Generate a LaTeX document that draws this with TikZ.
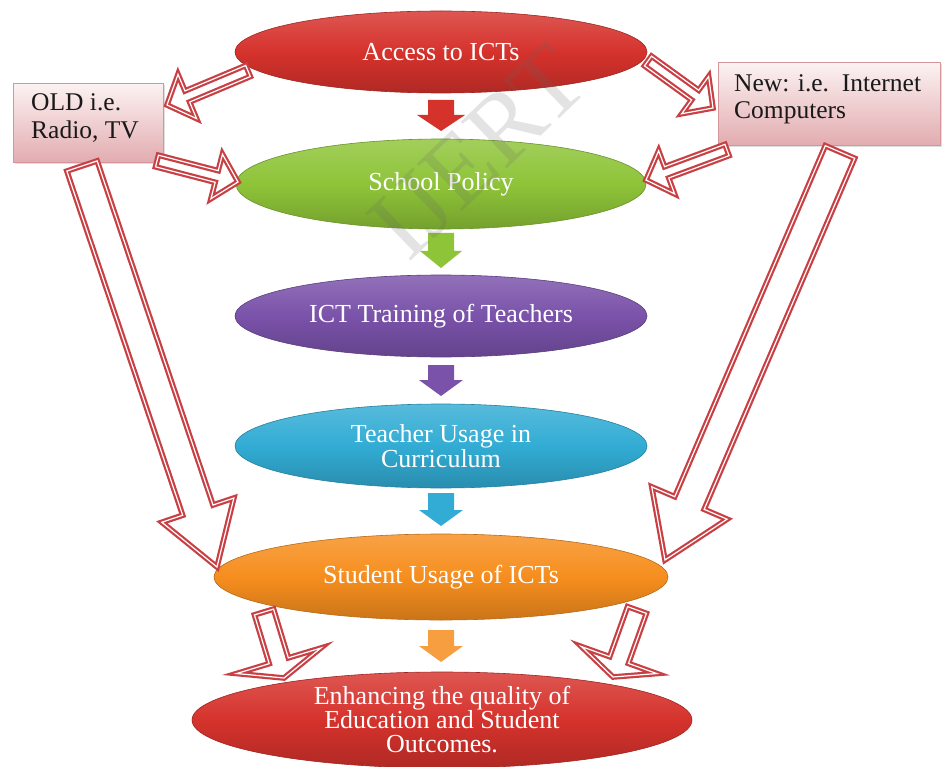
\documentclass[tikz,border=0pt]{standalone}
\usepackage{fontspec}
\setmainfont{Liberation Serif}
\usetikzlibrary{shapes.geometric,calc,shadows}

\definecolor{ared}{RGB}{200,64,68}
\definecolor{cred}{RGB}{214,50,44}
\definecolor{cgreen}{RGB}{142,196,56}
\definecolor{cpurple}{RGB}{122,82,170}
\definecolor{ccyan}{RGB}{50,172,212}
\definecolor{corange}{RGB}{246,142,30}
\definecolor{boxtop}{RGB}{252,242,242}
\definecolor{boxbot}{RGB}{226,172,176}
\definecolor{boxline}{RGB}{212,150,154}
\definecolor{txtdark}{RGB}{25,25,25}

\tikzset{
  oval/.style={ellipse, inner sep=0pt, text=white, align=center,
    font=\fontsize{26}{22}\selectfont,
    draw=#1!75!black, line width=0.6pt,
    top color=#1!82!white, bottom color=#1!82!black, middle color=#1},
  infobox/.style={rectangle, inner sep=0pt, draw=boxline, line width=0.8pt,
    top color=boxtop, bottom color=boxbot,
    drop shadow={shadow xshift=2pt, shadow yshift=-2pt, opacity=0.25}},
  boxtext/.style={text=txtdark, align=left, inner sep=0pt,
    font=\fontsize{25.5}{28}\selectfont},
  outarr/.style={draw=ared, line width=2.2pt, double=white, double distance=1.2pt,
    fill=white, line join=miter},
  solarr/.style={fill=#1, draw=none},
}

\newcommand{\blockarr}[6]{%
  \coordinate (bb) at ($(#3)!#6!(#2)$);
  \path[#1] ($(#2)!#4!90:(#3)$) -- ($(bb)!#4!90:(#3)$) -- ($(bb)!#5!90:(#3)$)
    -- (#3) -- ($(bb)!#5!-90:(#3)$) -- ($(bb)!#4!-90:(#3)$)
    -- ($(#2)!#4!-90:(#3)$) -- cycle;
}

\begin{document}
\begin{tikzpicture}[x=1pt,y=-1pt]
\useasboundingbox[fill=white] (0,0) rectangle (942,767);

% boxes
\node[infobox, minimum width=150pt, minimum height=79pt, anchor=north west] (old) at (13,83) {};
\node[boxtext, anchor=north west] (oldt) at (31,93) {OLD i.e.\\Radio, TV};
\node[infobox, minimum width=222pt, minimum height=83pt, anchor=north west] (new) at (718,62) {};
\node[boxtext, anchor=north west, font=\fontsize{25.5}{27}\selectfont] (newt) at (734,74) {New: i.e.\ \ Internet\\Computers};

% ellipses
\node[oval=cred, minimum width=412pt, minimum height=82pt] (e1) at (441,52) {Access to ICTs};
\node[oval=cgreen, minimum width=410pt, minimum height=90pt] (e2) at (441,184) {School Policy};
\node[oval=cpurple, minimum width=412pt, minimum height=82pt] (e3) at (441,316) {ICT Training of Teachers};
\node[oval=ccyan, minimum width=412pt, minimum height=84pt] (e4) at (441,446) {Teacher Usage in\\Curriculum};
\node[oval=corange, minimum width=454pt, minimum height=86pt] (e5) at (441,577) {Student Usage of ICTs};
\node[oval=cred, minimum width=500pt, minimum height=96pt, font=\fontsize{26}{24}\selectfont] (e6) at (442,720) {Enhancing the quality of\\Education and Student\\Outcomes.};

% connector end points
\coordinate (s1a) at (441,100); \coordinate (s1b) at (441,131);
\coordinate (s2a) at (441,233); \coordinate (s2b) at (441,268);
\coordinate (s3a) at (441,365); \coordinate (s3b) at (441,396);
\coordinate (s4a) at (441,493); \coordinate (s4b) at (441,526);
\coordinate (s5a) at (441,630); \coordinate (s5b) at (441,662);

\coordinate (a1a) at (248,71);  \coordinate (a1b) at (167,105);
\coordinate (a2a) at (157,161); \coordinate (a2b) at (238,182);
\coordinate (a3a) at (648,61);  \coordinate (a3b) at (713,108);
\coordinate (a4a) at (727,150); \coordinate (a4b) at (646,180);
\coordinate (a5a) at (264,612); \coordinate (a5b) at (284,678);
\coordinate (a6a) at (637,610); \coordinate (a6b) at (613,677);
\coordinate (bl1) at (82,166);  \coordinate (bl2) at (217,567);
\coordinate (br1) at (840,152); \coordinate (br2) at (665,560);

% solid arrows between ellipses
\blockarr{solarr=cred}{s1a}{s1b}{13pt}{24pt}{16pt}
\blockarr{solarr=cgreen}{s2a}{s2b}{13pt}{21pt}{17pt}
\blockarr{solarr=cpurple}{s3a}{s3b}{13pt}{22pt}{16pt}
\blockarr{solarr=ccyan}{s4a}{s4b}{13pt}{22pt}{16pt}
\blockarr{solarr=corange!85!white}{s5a}{s5b}{13pt}{22pt}{16pt}

% outline arrows
\blockarr{outarr}{a1a}{a1b}{6pt}{24pt}{22pt}
\blockarr{outarr}{a2a}{a2b}{6pt}{23pt}{22pt}
\blockarr{outarr}{a3a}{a3b}{6pt}{23pt}{22pt}
\blockarr{outarr}{a4a}{a4b}{6pt}{23pt}{22pt}
\blockarr{outarr}{a5a}{a5b}{10pt}{44pt}{18pt}
\blockarr{outarr}{a6a}{a6b}{10pt}{40pt}{18pt}
\blockarr{outarr}{bl1}{bl2}{16pt}{38pt}{60pt}
\blockarr{outarr}{br1}{br2}{16pt}{41pt}{62pt}

% watermark
\node[rotate=44, text=black!60, opacity=0.18, font=\fontsize{100}{100}\selectfont] (wm) at (478,152) {IJERT};
\end{tikzpicture}
\end{document}
